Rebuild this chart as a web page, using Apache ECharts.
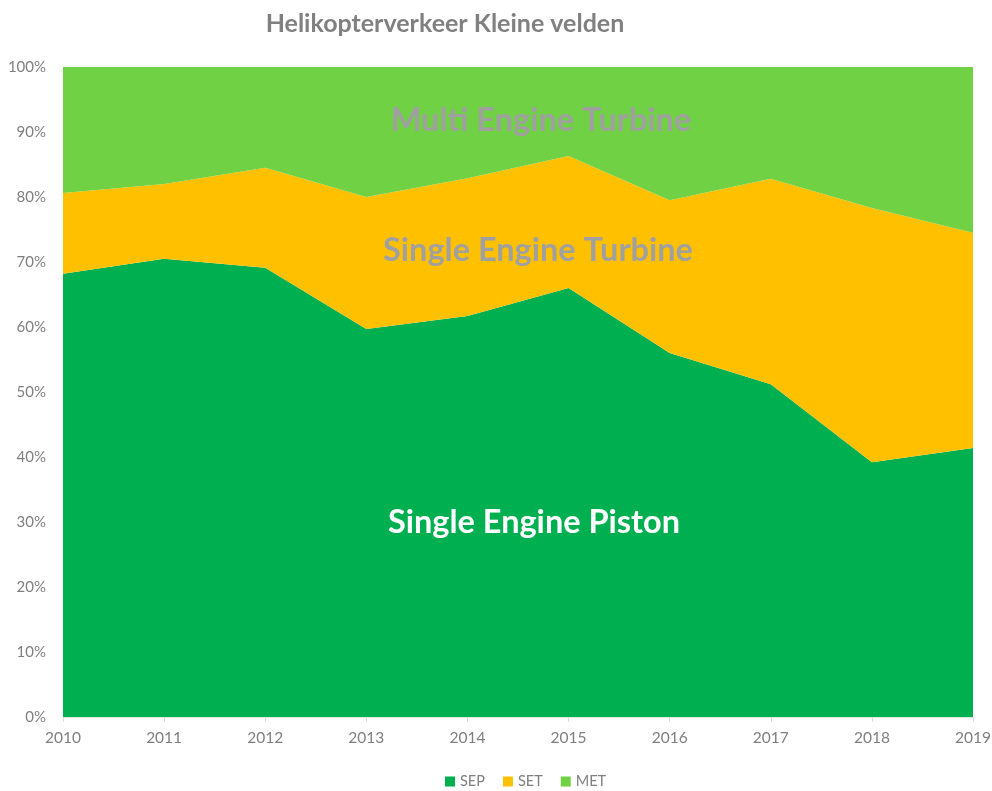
<!DOCTYPE html>
<html>
<head>
<meta charset="utf-8">
<script src="https://cdn.jsdelivr.net/npm/echarts@6/dist/echarts.min.js"></script>
<style>
  html, body { margin: 0; padding: 0; background: #fff; }
  #chart { width: 992px; height: 791px; }
</style>
</head>
<body>
<div id="chart"></div>
<script>
// jaren en aandelen (procent) per type
const years = ['2010', '2011', '2012', '2013', '2014', '2015', '2016', '2017', '2018', '2019']
const sep = [68.2, 70.5, 69.1, 59.7, 61.7, 66.0, 56.0, 51.2, 39.2, 41.4]
const set = [12.4, 11.5, 15.4, 20.3, 21.2, 20.3, 23.5, 31.6, 39.1, 33.1]
const met = [19.4, 18.0, 15.5, 20.0, 17.1, 13.7, 20.5, 17.2, 21.7, 25.5]

const font = 'Lato, "Open Sans", sans-serif'
const chart = echarts.init(document.getElementById('chart'))

function areaSeries(name, data, color) {
    return {
        name: name,
        type: 'line',
        stack: 'total',
        data: data,
        symbol: 'none',
        lineStyle: { width: 0 },
        areaStyle: { color: color, opacity: 1 },
        itemStyle: { color: color },
        emphasis: { disabled: true }
    }
}

// tekst in de vlakken
function areaLabel(text, x, y, fill) {
    return {
        type: 'text', z: 100,
        style: {
            text: text, x: x, y: y, align: 'center', verticalAlign: 'middle',
            fontFamily: font, fontSize: 32.5, fontWeight: 'bold', fill: fill
        }
    }
}

chart.setOption({
    animation: false,
    title: {
        text: 'Helikopterverkeer Kleine velden',
        left: 440,
        textAlign: 'center',
        top: 6,
        textStyle: { fontFamily: font, fontSize: 25, fontWeight: 'bold', color: '#808080' }
    },
    legend: {
        top: 769,
        left: 440,
        itemWidth: 10,
        itemHeight: 10,
        itemGap: 18,
        icon: 'rect',
        textStyle: { fontFamily: font, fontSize: 14.5, color: '#7f7f7f' },
        data: ['SEP', 'SET', 'MET']
    },
    grid: { left: 63, right: 19, top: 67, bottom: 74, outerBoundsMode: 'none' },
    xAxis: {
        type: 'category',
        data: years,
        boundaryGap: false,
        axisLine: { lineStyle: { color: '#d9ead9', width: 1 } },
        axisTick: { show: true, lineStyle: { color: '#d9d9d9' }, length: 5 },
        axisLabel: { fontFamily: font, fontSize: 15.5, color: '#7f7f7f', margin: 13 }
    },
    yAxis: {
        type: 'value',
        min: 0,
        max: 100,
        interval: 10,
        splitLine: { show: false },
        axisLine: { show: false },
        axisTick: { show: false },
        axisLabel: { fontFamily: font, fontSize: 15, color: '#7f7f7f', margin: 17, formatter: '{value}%' }
    },
    series: [
        areaSeries('SEP', sep, '#00b050'),
        areaSeries('SET', set, '#ffc000'),
        areaSeries('MET', met, '#6fd143')
    ],
    graphic: [
        areaLabel('Multi Engine Turbine', 541, 121, '#a0a0a0'),
        areaLabel('Single Engine Turbine', 538, 251, '#a0a0a0'),
        areaLabel('Single Engine Piston', 534, 523, '#ffffff')
    ]
})
</script>
</body>
</html>
